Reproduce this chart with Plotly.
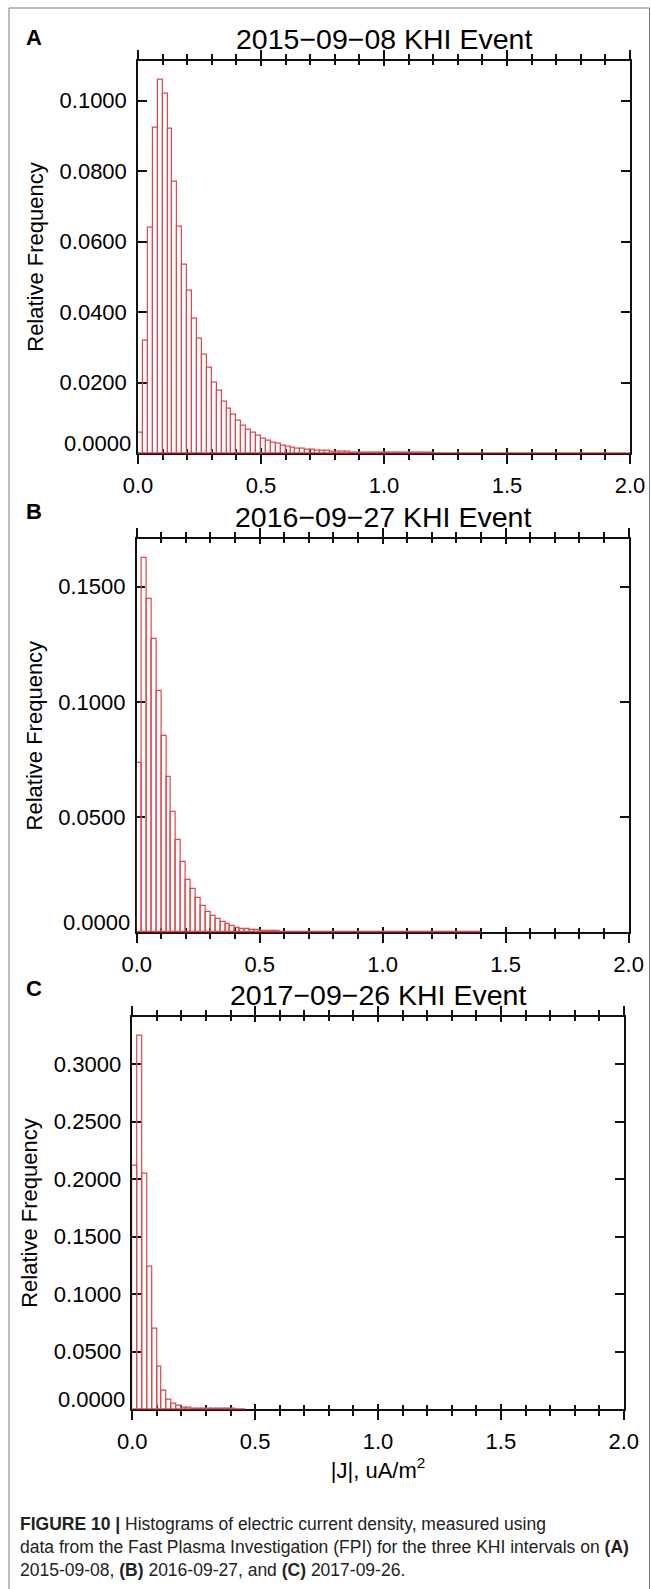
import numpy as np
import plotly.graph_objects as go

# ---------------- data ----------------
BIN_W = 0.02  # histogram bin width in uA/m^2

freq_2015 = [
    0.0059, 0.0319, 0.0640, 0.0922, 0.1060, 0.1019, 0.0919, 0.0771, 0.0641, 0.0535,
    0.0461, 0.0381, 0.0325, 0.0280, 0.0242, 0.0200, 0.0177, 0.0145, 0.0126, 0.0110,
    0.0092, 0.0078, 0.0068, 0.0059, 0.0051, 0.0042, 0.0037, 0.0031, 0.0026, 0.0022,
    0.0019, 0.0016, 0.0014, 0.0012, 0.0011, 0.0009, 0.0008, 0.0007, 0.0006, 0.0005,
    0.0005, 0.0004, 0.0004, 0.0003, 0.0003, 0.0002, 0.0002, 0.0002, 0.0001, 0.0001,
    0.0001, 0.0001, 0.0001, 0.0001, 0.0001, 0.0001, 0.0001, 0.0001, 0.0001, 0.0001,
    0.0000, 0.0000, 0.0000, 0.0000, 0.0000, 0.0000, 0.0000, 0.0000, 0.0000, 0.0000,
    0.0000, 0.0000, 0.0000, 0.0000, 0.0000, 0.0000, 0.0000, 0.0000, 0.0000, 0.0000,
    0.0000, 0.0000, 0.0000, 0.0000, 0.0000, 0.0000, 0.0000, 0.0000, 0.0000, 0.0000,
    0.0000, 0.0000, 0.0000, 0.0000, 0.0000, 0.0000, 0.0000, 0.0000, 0.0000, 0.0000,
]

freq_2016 = [
    0.0733, 0.1626, 0.1447, 0.1275, 0.1048, 0.0851, 0.0675, 0.0523, 0.0399, 0.0305,
    0.0228, 0.0189, 0.0147, 0.0113, 0.0089, 0.0072, 0.0056, 0.0045, 0.0035, 0.0027,
    0.0020, 0.0016, 0.0013, 0.0010, 0.0009, 0.0007, 0.0006, 0.0005, 0.0004, 0.0003,
    0.0003, 0.0002, 0.0002, 0.0001, 0.0001, 0.0001, 0.0001, 0.0001, 0.0000, 0.0000,
    0.0000, 0.0000, 0.0000, 0.0000, 0.0000, 0.0000, 0.0000, 0.0000, 0.0000, 0.0000,
    0.0000, 0.0000, 0.0000, 0.0000, 0.0000, 0.0000, 0.0000, 0.0000, 0.0000, 0.0000,
    0.0000, 0.0000, 0.0000, 0.0000, 0.0000, 0.0000, 0.0000, 0.0000, 0.0000, 0.0000,
]

freq_2017 = [
    0.2121, 0.3249, 0.2043, 0.1235, 0.0701, 0.0369, 0.0162, 0.0081, 0.0046, 0.0029,
    0.0017, 0.0010, 0.0006, 0.0004, 0.0003, 0.0002, 0.0002, 0.0001, 0.0001, 0.0001,
    0.0001, 0.0000, 0.0000,
]

event_titles = ["2015\u221209\u221208 KHI Event",
                "2016\u221209\u221227 KHI Event",
                "2017\u221209\u221226 KHI Event"]
panel_letters = ["A", "B", "C"]

x_range = [0.0, 2.0]
x_major_step = 0.5
x_minor_step = 0.1

y_ticks_2015 = [0.02, 0.04, 0.06, 0.08, 0.10]
y_ticks_2016 = [0.05, 0.10, 0.15]
y_ticks_2017 = [0.05, 0.10, 0.15, 0.20, 0.25, 0.30]

x_title = "|J|, uA/m<sup>2</sup>"
y_title = "Relative Frequency"

caption_lines = [
    "<b>FIGURE 10 |</b> Histograms of electric current density, measured using",
    "data from the Fast Plasma Investigation (FPI) for the three KHI intervals on <b>(A)</b>",
    "2015-09-08, <b>(B)</b> 2016-09-27, and <b>(C)</b> 2017-09-26.",
]

# ---------------- layout / style ----------------
W, H = 651, 1589
FONT = "Liberation Sans, Arial, Helvetica, sans-serif"
RED = "#e0474c"
AX = "#111111"
TICK_FS = 22

# plot-area boxes in pixels (left, right, top, bottom)
boxes = [
    (138.0, 630.0, 60.7, 453.3),
    (136.7, 628.6, 539.0, 932.3),
    (132.3, 623.8, 1016.7, 1409.3),
]
letter_bottoms = [52, 526, 1003]
caption_baselines = [1531, 1554, 1577]
CAPTION_FS = 17.5
CAPTION_LEFT = 18


def px_x(v):
    return v / W


def px_y(v):
    return 1 - v / H


series = [freq_2015, freq_2016, freq_2017]
yticks = [y_ticks_2015, y_ticks_2016, y_ticks_2017]

fig = go.Figure()
layout = dict(
    template="none",
    width=W, height=H,
    margin=dict(l=0, r=0, t=0, b=0, autoexpand=False),
    paper_bgcolor="white", plot_bgcolor="white",
    showlegend=False, barmode="overlay", bargap=0,
    font=dict(family=FONT, color="black"),
    annotations=[], shapes=[],
)

for i, (vals, yt, box) in enumerate(zip(series, yticks, boxes)):
    n = i + 1
    xid = "x" if n == 1 else f"x{n}"
    yid = "y" if n == 1 else f"y{n}"
    ox = f"x{n + 3}"
    vals = np.asarray(vals, dtype=float)
    edges = np.arange(len(vals) + 1) * BIN_W
    centers = (edges[:-1] + edges[1:]) / 2

    fig.add_trace(go.Bar(
        x=centers, y=vals, width=BIN_W, xaxis=xid, yaxis=yid,
        marker=dict(color="rgba(0,0,0,0)", line=dict(color=RED, width=1.2)),
        cliponaxis=False, hoverinfo="x+y",
    ))
    # outline along the baseline across the whole binned range
    fig.add_trace(go.Scatter(
        x=[edges[0], edges[-1]], y=[0, 0], mode="lines", xaxis=xid, yaxis=yid,
        line=dict(color=RED, width=1.5), cliponaxis=False, hoverinfo="skip",
    ))
    # dummy trace for the inner-tick overlay axis
    fig.add_trace(go.Scatter(x=[None], y=[None], xaxis=ox, yaxis=yid,
                             mode="lines", hoverinfo="skip"))

    l, r, t, b = box
    xdom = [px_x(l), px_x(r)]
    ydom = [px_y(b), px_y(t)]
    ymax = float(vals.max()) * 1.05

    xkey = "xaxis" if n == 1 else f"xaxis{n}"
    ykey = "yaxis" if n == 1 else f"yaxis{n}"
    layout[xkey] = dict(
        domain=xdom, anchor=yid, range=x_range, automargin=False,
        tick0=0, dtick=x_major_step, tickformat=".1f",
        showline=True, linecolor=AX, linewidth=1.5, mirror="ticks",
        ticks="outside", ticklen=9, tickwidth=1.5, tickcolor=AX,
        minor=dict(dtick=x_minor_step, tick0=0, ticks="outside", ticklen=5,
                   tickwidth=1.5, tickcolor=AX, showgrid=False),
        showgrid=False, zeroline=False, layer="below traces",
        tickfont=dict(size=TICK_FS, family=FONT, color="black"),
        ticklabelstandoff=3, fixedrange=True,
    )
    if n == 3:
        layout[xkey]["title"] = dict(text=x_title, standoff=0,
                                     font=dict(size=22, family=FONT, color="black"))
    layout[f"xaxis{n + 3}"] = dict(
        overlaying=xid, anchor=yid, range=x_range, automargin=False,
        tick0=0, dtick=x_major_step, showticklabels=False,
        showline=False, mirror="ticks",
        ticks="inside", ticklen=5, tickwidth=1.5, tickcolor=AX,
        minor=dict(dtick=x_minor_step, tick0=0, ticks="inside", ticklen=4,
                   tickwidth=1.5, tickcolor=AX, showgrid=False),
        showgrid=False, zeroline=False, layer="below traces", fixedrange=True,
    )
    layout[ykey] = dict(
        domain=ydom, anchor=xid, range=[0, ymax], automargin=False,
        tickmode="array", tickvals=yt, ticktext=[f"{v:.4f}" for v in yt],
        showline=True, linecolor=AX, linewidth=1.5, mirror="ticks",
        ticks="inside", ticklen=9, tickwidth=1.5, tickcolor=AX,
        showgrid=False, zeroline=False, layer="below traces",
        tickfont=dict(size=TICK_FS, family=FONT, color="black"),
        ticklabelstandoff=5, fixedrange=True,
        title=dict(text=y_title, standoff=10,
                   font=dict(size=22, family=FONT, color="black")),
    )
    # zero label (drawn slightly above the baseline as in the original)
    layout["annotations"].append(dict(
        text=f"{0:.4f}", xref=f"{xid} domain", x=0, xanchor="right", xshift=-5,
        yref=yid, y=0, yanchor="middle", yshift=10, showarrow=False,
        font=dict(size=TICK_FS, family=FONT, color="black"),
    ))
    # event title
    layout["annotations"].append(dict(
        text=event_titles[i], xref=f"{xid} domain", x=0.5, xanchor="center",
        yref=f"{yid} domain", y=1, yanchor="bottom", yshift=4, showarrow=False,
        font=dict(size=28.5, family=FONT, color="black"),
    ))
    # panel letter
    layout["annotations"].append(dict(
        text=f"<b>{panel_letters[i]}</b>", xref="paper", x=px_x(24), xanchor="left",
        yref="paper", y=px_y(letter_bottoms[i]), yanchor="bottom", showarrow=False,
        font=dict(size=22, family=FONT, color="black"),
    ))

for line, base in zip(caption_lines, caption_baselines):
    layout["annotations"].append(dict(
        text=line, xref="paper", x=px_x(CAPTION_LEFT), xanchor="left",
        yref="paper", y=px_y(base + 0.212 * CAPTION_FS + 1), yanchor="bottom",
        showarrow=False, align="left",
        font=dict(size=CAPTION_FS, family=FONT, color="#222222"),
    ))

# figure frame
layout["shapes"].append(dict(
    type="rect", xref="paper", yref="paper",
    x0=px_x(9), x1=px_x(649.5), y0=-0.02, y1=px_y(8),
    line=dict(color="#7a7a7a", width=1), fillcolor="rgba(0,0,0,0)", layer="below",
))

fig.update_layout(**layout)
fig.write_html("out.html")
